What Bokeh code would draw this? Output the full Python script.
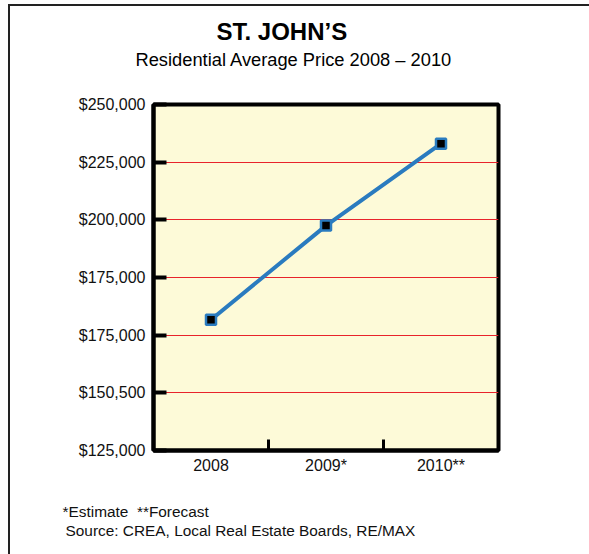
from bokeh.plotting import figure
from bokeh.models import FixedTicker, Range1d, Title
from bokeh.embed import file_html
from bokeh.resources import INLINE

# ---- data ----
years = ["2008", "2009*", "2010**"]
prices = [156700, 197500, 233000]
y_tick_values = [100000, 125000, 150000, 175000, 200000, 225000, 250000]
y_tick_labels = ["$125,000", "$150,500", "$175,000", "$175,000", "$200,000", "$225,000", "$250,000"]

title_text = "ST. JOHN\u2019S"
subtitle_text = "Residential Average Price 2008 \u2013 2010"
note1 = "*Estimate\u00a0 **Forecast"
note2 = "Source: CREA, Local Real Estate Boards, RE/MAX"

FONT = "Liberation Sans"

xs = [i + 0.5 for i in range(len(years))]

p = figure(width=589, height=554, output_backend="svg", toolbar_location=None,
           x_range=Range1d(0, len(years)), y_range=Range1d(100000, 250000),
           min_border_left=153, min_border_right=91, min_border_top=104, min_border_bottom=104)
p.frame_width = 345
p.frame_height = 346

p.background_fill_color = "#fdfad8"
p.border_fill_color = "white"
p.border_fill_alpha = 0
p.outline_line_color = "black"
p.outline_line_width = 4
# thin page frame on the left and top edges (drawn as the figure's CSS background)
p.styles = {
    "background": "linear-gradient(#222, #222) 8px 4px / 2px 550px no-repeat, "
                  "linear-gradient(#222, #222) 8px 4px / 581px 2px no-repeat, white"
}

# y axis
p.yaxis.ticker = FixedTicker(ticks=y_tick_values, minor_ticks=[])
p.yaxis.major_label_overrides = {v: l for v, l in zip(y_tick_values, y_tick_labels)}
p.yaxis.axis_line_width = 4
p.yaxis.axis_line_color = "black"
p.yaxis.major_tick_in = 13
p.yaxis.major_tick_out = 0
p.yaxis.major_tick_line_width = 4
p.yaxis.minor_tick_line_color = None
p.yaxis.major_label_standoff = 8
p.yaxis.major_label_text_font = FONT
p.yaxis.major_label_text_font_size = "16px"
p.yaxis.major_label_text_color = "#111111"

# x axis
boundaries = [i for i in range(1, len(years))]
p.xaxis.ticker = FixedTicker(ticks=xs, minor_ticks=boundaries)
p.xaxis.major_label_overrides = {x: y for x, y in zip(xs, years)}
p.xaxis.axis_line_width = 4
p.xaxis.axis_line_color = "black"
p.xaxis.major_tick_line_color = None
p.xaxis.major_tick_in = 0
p.xaxis.major_tick_out = 0
p.xaxis.minor_tick_in = 11
p.xaxis.minor_tick_out = 0
p.xaxis.minor_tick_line_width = 3
p.xaxis.minor_tick_line_color = "black"
p.xaxis.major_label_standoff = 6
p.xaxis.major_label_text_font = FONT
p.xaxis.major_label_text_font_size = "16px"
p.xaxis.major_label_text_color = "#111111"

# grid
p.xgrid.grid_line_color = None
p.ygrid.grid_line_color = "#e8232b"
p.ygrid.grid_line_width = 1

# series
p.line(xs, prices, line_color="#2a7bbf", line_width=4)
p.scatter(xs, prices, marker="square", size=10, fill_color="black",
          line_color="#2a7bbf", line_width=2.5)

# headings above (first added is closest to the frame)
p.add_layout(Title(text=" ", text_font_size="1px", standoff=32), "above")  # spacing
p.add_layout(Title(text=subtitle_text, align="left", offset=-18, standoff=0,
                   text_font=FONT, text_font_size="18.3px", text_font_style="normal",
                   text_color="black"), "above")
p.add_layout(Title(text=title_text, align="left", offset=63, standoff=3,
                   text_font=FONT, text_font_size="24px", text_font_style="bold",
                   text_color="black"), "above")

# notes below
p.add_layout(Title(text=" ", text_font_size="1px", standoff=21), "below")  # spacing
p.add_layout(Title(text=note1, align="left", offset=-91, standoff=0,
                   text_font=FONT, text_font_size="15.4px", text_font_style="normal",
                   text_color="#111111"), "below")
p.add_layout(Title(text=note2, align="left", offset=-88, standoff=0,
                   text_font=FONT, text_font_size="15.4px", text_font_style="normal",
                   text_color="#111111"), "below")

open("out.html", "w").write(file_html(p, INLINE))
